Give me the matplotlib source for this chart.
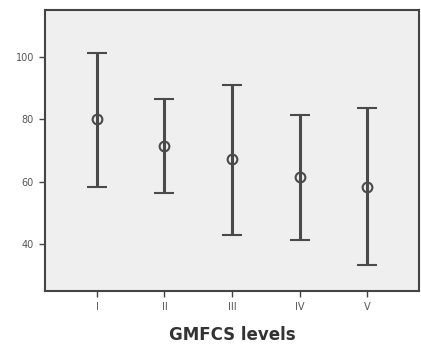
import matplotlib
matplotlib.use("Agg")
import matplotlib.pyplot as plt
import numpy as np

categories = ["I", "II", "III", "IV", "V"]
means = [80.0, 71.5, 67.2, 61.5, 58.3]
lower = [58.4, 56.3, 43.0, 41.2, 33.2]
upper = [101.2, 86.6, 91.1, 81.5, 83.6]
y_ticks = [40, 60, 80, 100]

fig = plt.figure(figsize=(4.21, 3.44), dpi=100)
ax = fig.add_axes([45/421, 1 - 291/344, (419-45)/421, (291-10)/344])
ax.set_facecolor("#efefef")
fig.patch.set_facecolor("white")

x = np.arange(1, len(categories) + 1)
m = np.array(means)
err = np.vstack([m - np.array(lower), np.array(upper) - m])
ax.errorbar(x, m, yerr=err, fmt="o", color="#4a4a4a", ecolor="#4a4a4a",
            elinewidth=2.2, capsize=7, capthick=2.5, markersize=7,
            markerfacecolor="none", markeredgewidth=1.5)

ax.set_xlim(0.23, 5.77)
ax.set_ylim(25, 115)
ax.set_xticks(x)
ax.set_xticklabels(categories, fontsize=7, color="#555555")
ax.set_yticks(y_ticks)
ax.set_yticklabels([str(v) for v in y_ticks], fontsize=7, color="#555555")
ax.tick_params(axis="both", direction="out", length=4, width=1, color="#444444", pad=4)
for s in ax.spines.values():
    s.set_color("#444444")
    s.set_linewidth(1.5)
ax.set_xlabel("GMFCS levels", fontsize=12, fontweight="bold", color="#333333", labelpad=10)

fig.savefig("out.png", dpi=100)
